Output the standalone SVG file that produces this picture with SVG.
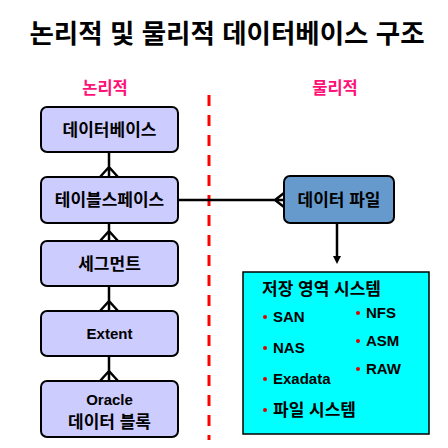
<svg xmlns="http://www.w3.org/2000/svg" width="448" height="448" viewBox="0 0 448 448">
<style>
text{font-family:"Liberation Sans","Noto Sans CJK KR",sans-serif;font-weight:bold;}
.lb{fill:#CCCCFF;stroke:#000;stroke-width:2;}
.bt{font-size:17px;text-anchor:middle;fill:#000;}
.lt{font-size:15px;text-anchor:middle;fill:#000;}
.hd{font-size:16.5px;fill:#FF1177;text-anchor:middle;}
.it{font-size:15px;fill:#000;}
.ik{font-size:17px;fill:#000;}
.ln{stroke:#000;stroke-width:2.5;fill:none;}
.dot{fill:#E00000;}
</style>
<rect width="448" height="448" fill="#fff"/>
<text x="227" y="43" style="font-size:26.5px" text-anchor="middle">논리적 및 물리적 데이터베이스 구조</text>
<text class="hd" x="105" y="94">논리적</text>
<text class="hd" x="335" y="94">물리적</text>
<line x1="209" y1="95" x2="209" y2="440" stroke="#FF0000" stroke-width="3" stroke-dasharray="11,9"/>
<g id="connectors">
<path class="ln" d="M109 152V177M100 177L109 167L118 177"/>
<path class="ln" d="M109 223V241M100 241L109 231L118 241"/>
<path class="ln" d="M109 286V311M100 311L109 301L118 311"/>
<path class="ln" d="M109 356V381M100 381L109 371L118 381"/>
<path class="ln" d="M178 200H284M284 193L275 200L284 207"/>
<path class="ln" d="M337 223V257"/>
<path d="M333 256L341 256L337 264Z" fill="#000"/>
</g>
<g id="db"><rect class="lb" x="41" y="107" width="137" height="45" rx="6"/><text class="bt" x="109.5" y="136">데이터베이스</text></g>
<g id="ts"><rect class="lb" x="41" y="177" width="137" height="46" rx="6"/><text class="bt" x="109.5" y="206">테이블스페이스</text></g>
<g id="seg"><rect class="lb" x="41" y="241" width="137" height="45" rx="6"/><text class="bt" x="109.5" y="270">세그먼트</text></g>
<g id="ext"><rect class="lb" x="41" y="311" width="137" height="45" rx="6"/><text class="lt" x="109.5" y="339">Extent</text></g>
<g id="blk"><rect class="lb" x="41" y="381" width="137" height="56" rx="6"/><text class="lt" x="109.5" y="405">Oracle</text><text class="bt" x="109.5" y="428">데이터 블록</text></g>
<g id="df"><rect x="284" y="176" width="110" height="47" rx="6" fill="#6699CC" stroke="#000" stroke-width="2"/><text class="bt" x="339" y="206">데이터 파일</text></g>
<g id="storage">
<rect x="243" y="272" width="186" height="162" fill="#00FFFF" stroke="#000" stroke-width="1.5"/>
<text class="ik" x="262" y="295">저장 영역 시스템</text>
<circle class="dot" cx="265" cy="317" r="2"/><text class="it" x="273" y="322">SAN</text>
<circle class="dot" cx="265" cy="348" r="2"/><text class="it" x="273" y="353">NAS</text>
<circle class="dot" cx="265" cy="379" r="2"/><text class="it" x="273" y="384">Exadata</text>
<circle class="dot" cx="265" cy="410" r="2"/><text class="ik" x="273" y="416">파일 시스템</text>
<circle class="dot" cx="358" cy="313" r="2"/><text class="it" x="366" y="318">NFS</text>
<circle class="dot" cx="358" cy="341" r="2"/><text class="it" x="366" y="346">ASM</text>
<circle class="dot" cx="358" cy="369" r="2"/><text class="it" x="366" y="374">RAW</text>
</g>
</svg>
